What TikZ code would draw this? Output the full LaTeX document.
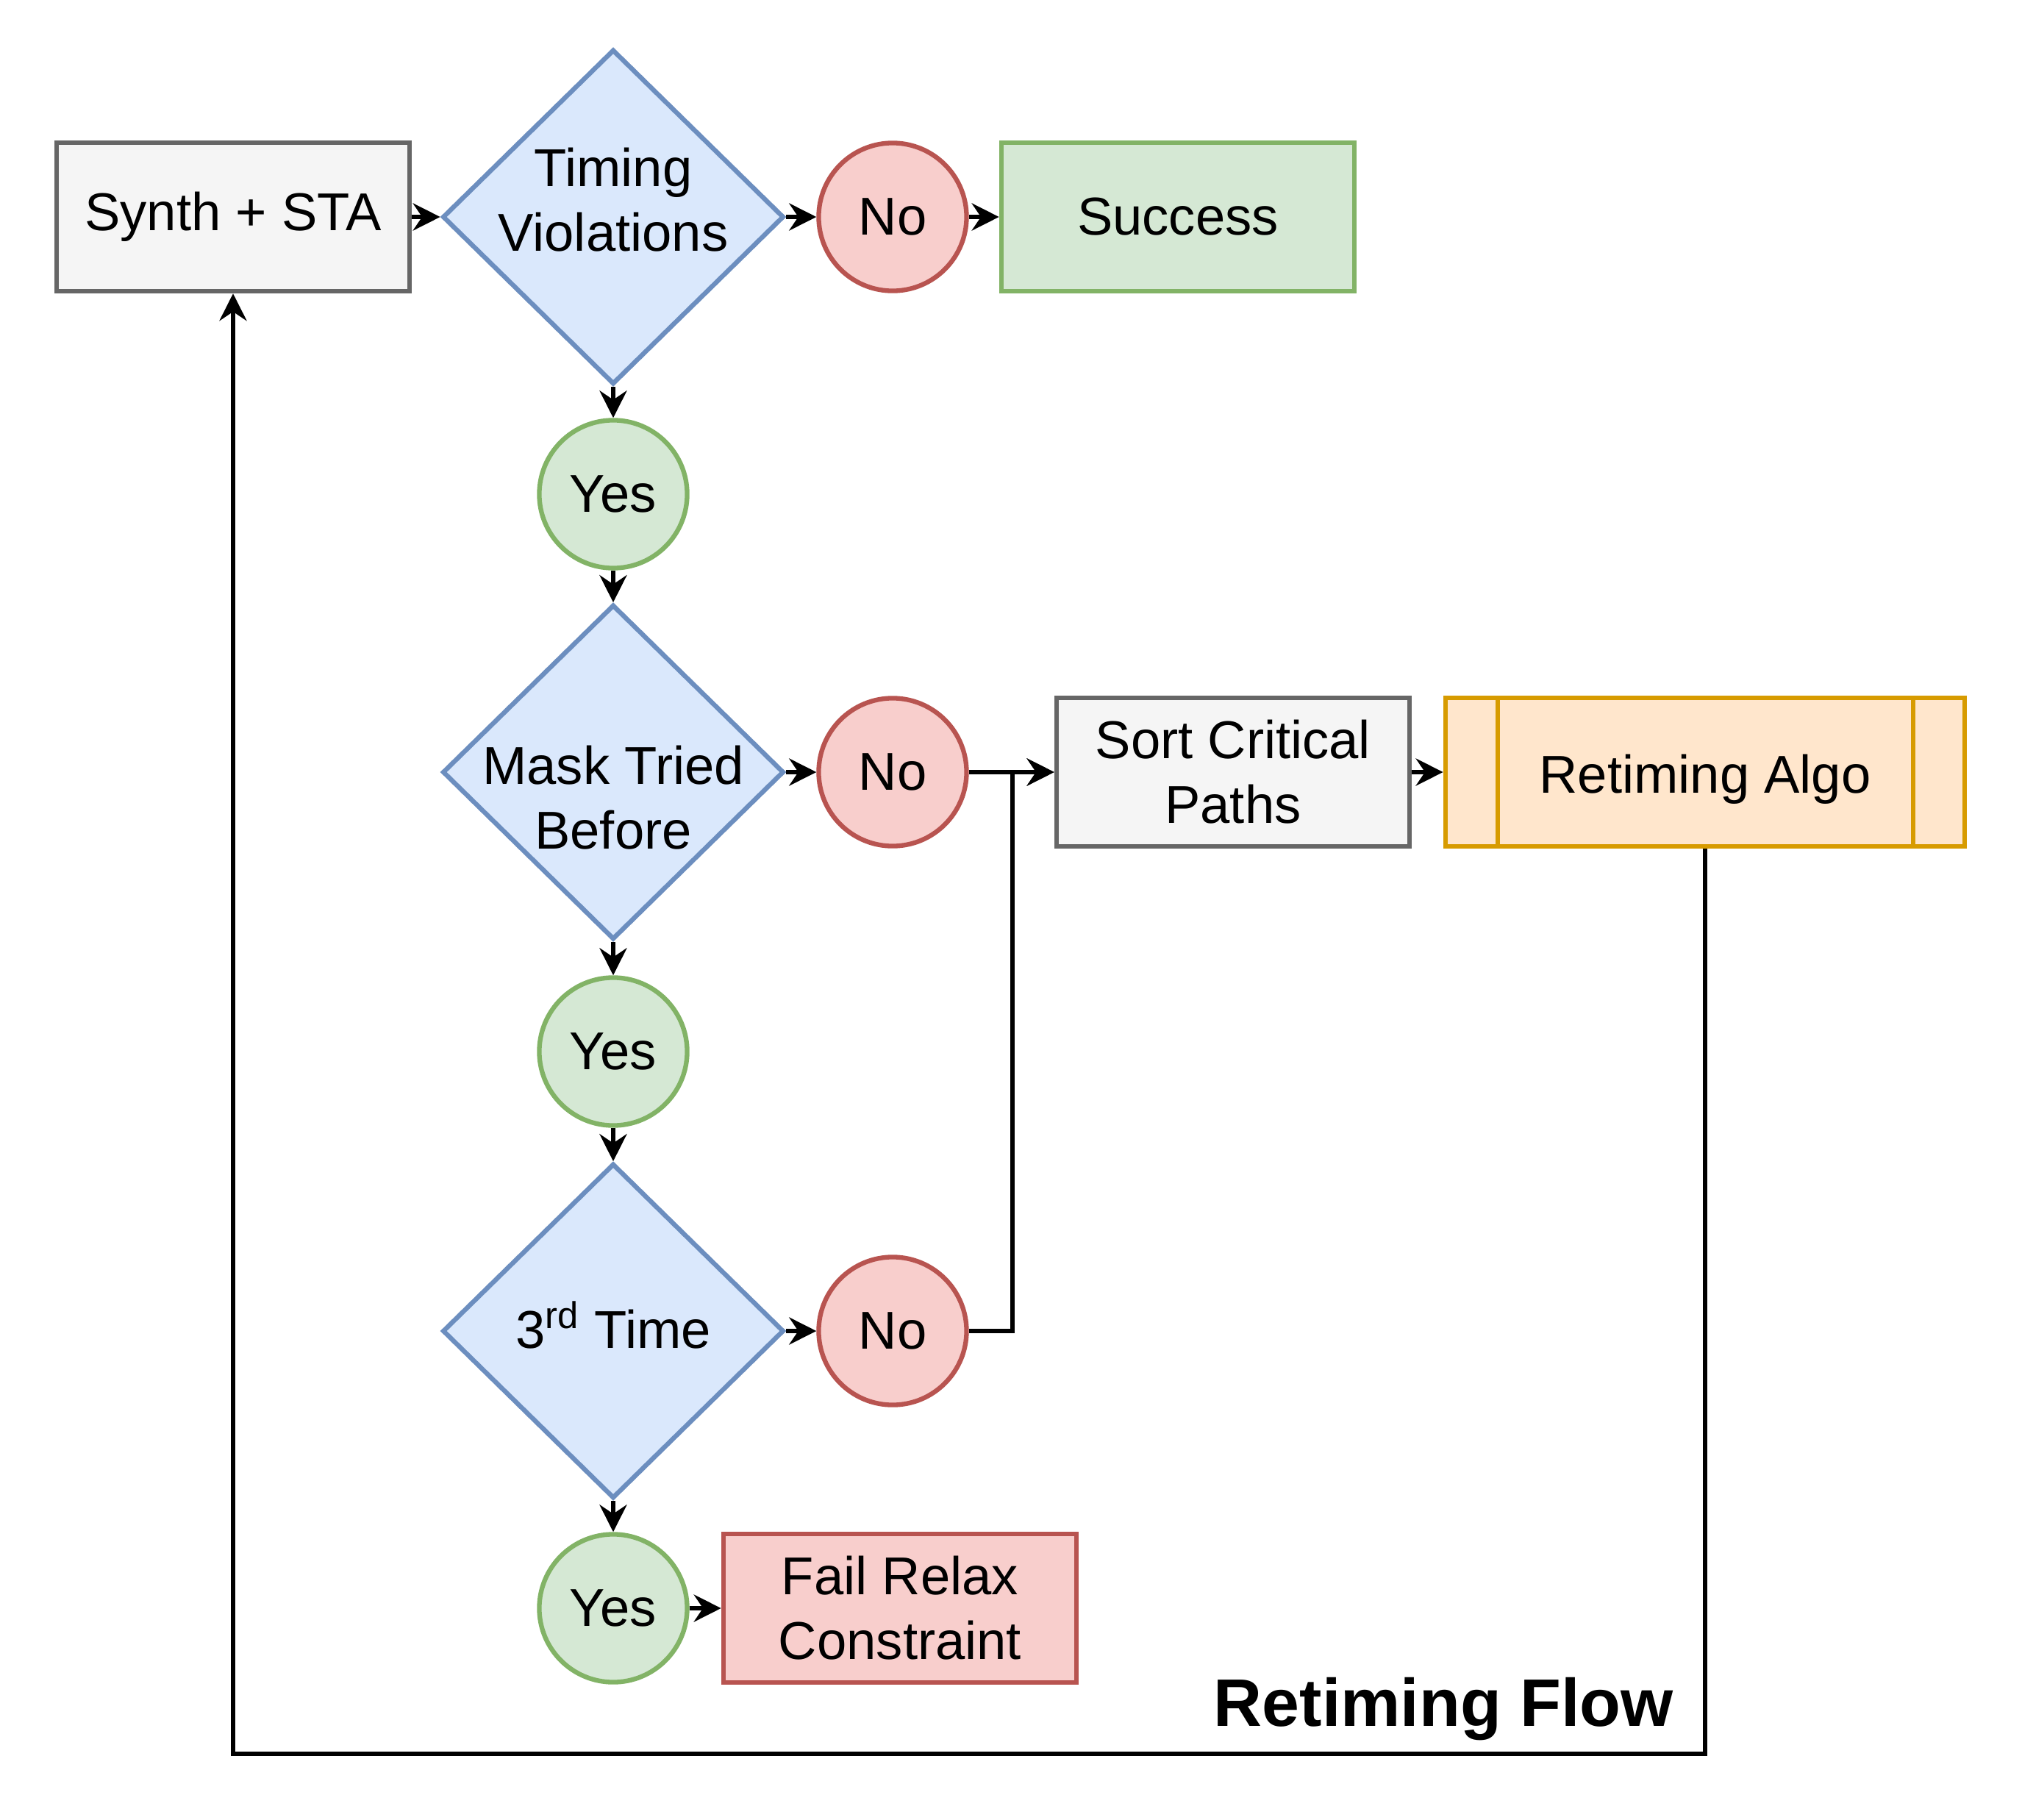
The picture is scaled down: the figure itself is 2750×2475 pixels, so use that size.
\documentclass[tikz,border=0pt]{standalone}
\usepackage{fontspec}
\setmainfont{Liberation Sans}
\usetikzlibrary{shapes.geometric,arrows.meta}

\definecolor{grayfill}{HTML}{F5F5F5}
\definecolor{grayline}{HTML}{666666}
\definecolor{bluefill}{HTML}{DAE8FC}
\definecolor{blueline}{HTML}{6C8EBF}
\definecolor{redfill}{HTML}{F8CECC}
\definecolor{redline}{HTML}{B85450}
\definecolor{greenfill}{HTML}{D5E8D4}
\definecolor{greenline}{HTML}{82B366}
\definecolor{orangefill}{HTML}{FFE6CC}
\definecolor{orangeline}{HTML}{D79B00}

\begin{document}
\begin{tikzpicture}[x=0.01cm,y=-0.01cm,
	every node/.style={font=\fontsize{20.6}{25}\selectfont,align=center},
	stepbox/.style={rectangle,line width=1.8pt,minimum width=4.8cm,minimum height=2.02cm,inner sep=0pt},
	decision/.style={diamond,line width=1.8pt,draw=blueline,fill=bluefill,minimum width=4.64cm,minimum height=4.55cm,inner sep=0pt},
	answer/.style={circle,line width=1.8pt,minimum size=2.01cm,inner sep=0pt},
	flow/.style={-{Stealth[length=10.5pt,width=10.5pt,inset=3.5pt]},line width=1.8pt}]
	\useasboundingbox (0,0) rectangle (2750,2475);
	
	\node[stepbox,draw=grayline,fill=grayfill] (synth) at (317,295) {Synth + STA};
	\node[decision,label={[yshift=0.23cm]center:{Timing\\Violations}}] (violations) at (834,295) {};
	\node[answer,draw=redline,fill=redfill] (no1) at (1214,295) {No};
	\node[stepbox,draw=greenline,fill=greenfill] (success) at (1602,295) {Success};
	
	\node[answer,draw=greenline,fill=greenfill] (yes1) at (834,672) {Yes};
	\node[decision,label={[yshift=-0.35cm]center:{Mask Tried\\Before}}] (tried) at (834,1050) {};
	\node[answer,draw=redline,fill=redfill] (no2) at (1214,1050) {No};
	\node[stepbox,draw=grayline,fill=grayfill] (sort) at (1677,1050) {Sort Critical\\Paths};
	\node[stepbox,minimum width=7.06cm,draw=orangeline,fill=orangefill,label={[yshift=-0.1cm]center:Retiming Algo}] (algo) at (2319,1050) {};
	\draw[line width=1.8pt,draw=orangeline] (2037,950) -- (2037,1151);
	\draw[line width=1.8pt,draw=orangeline] (2602,950) -- (2602,1151);
	
	\node[answer,draw=greenline,fill=greenfill] (yes2) at (834,1430) {Yes};
	\node[decision,label={[yshift=0.08cm]center:{3\textsuperscript{rd} Time}}] (third) at (834,1810) {};
	\node[answer,draw=redline,fill=redfill] (no3) at (1214,1810) {No};
	
	\node[answer,draw=greenline,fill=greenfill] (yes3) at (834,2187) {Yes};
	\node[stepbox,draw=redline,fill=redfill] (fail) at (1224,2187) {Fail Relax\\Constraint};
	
	\node[font=\bfseries\fontsize{26}{30}\selectfont,anchor=base east] (title) at (2288,2347) {Retiming Flow};
	
	\coordinate (join) at (1377,1050);
	\coordinate (loop) at (2319,2385);
	
	\path[flow] (synth) edge (violations);
	\path[flow] (violations) edge (no1);
	\path[flow] (no1) edge (success);
	\path[flow] (violations) edge (yes1);
	\path[flow] (yes1) edge (tried);
	\path[flow] (tried) edge (no2);
	\path[flow] (no2) edge (sort);
	\path[flow] (sort) edge (algo);
	\path[flow] (tried) edge (yes2);
	\path[flow] (yes2) edge (third);
	\path[flow] (third) edge (no3);
	\path[flow] (third) edge (yes3);
	\path[flow] (yes3) edge (fail);
	\draw[flow] (no3) -| (join) -- (sort);
	\draw[flow] (algo) -- (loop) -| (synth);
\end{tikzpicture}
\end{document}
